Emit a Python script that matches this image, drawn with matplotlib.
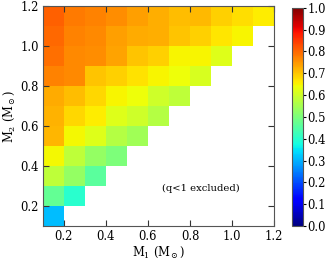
import numpy as np
import matplotlib
matplotlib.use("Agg")
import matplotlib.pyplot as plt

plt.rcParams['font.family'] = 'DejaVu Serif'
plt.rcParams['mathtext.fontset'] = 'dejavuserif'

# mass bin edges (Msun)
m1_edges = np.round(np.arange(0.1, 1.21, 0.1), 2)
m2_edges = np.round(np.arange(0.1, 1.21, 0.1), 2)

# values per cell, rows = M2 bins from 0.1-0.2 up to 1.1-1.2, cols = M1 bins
# None -> q<1 excluded
vals = [
    [0.31, None, None, None, None, None, None, None, None, None, None],
    [0.47, 0.40, None, None, None, None, None, None, None, None, None],
    [0.58, 0.53, 0.46, None, None, None, None, None, None, None, None],
    [0.645, 0.58, 0.53, 0.50, None, None, None, None, None, None, None],
    [0.715, 0.645, 0.62, 0.57, 0.545, None, None, None, None, None, None],
    [0.72, 0.68, 0.66, 0.62, 0.60, 0.57, None, None, None, None, None],
    [0.73, 0.71, 0.68, 0.65, 0.64, 0.60, 0.58, None, None, None, None],
    [0.77, 0.765, 0.70, 0.69, 0.67, 0.65, 0.64, 0.61, None, None, None],
    [0.79, 0.765, 0.76, 0.735, 0.70, 0.69, 0.65, 0.65, 0.62, None, None],
    [0.80, 0.772, 0.765, 0.74, 0.73, 0.725, 0.70, 0.69, 0.667, 0.65, None],
    [0.805, 0.78, 0.77, 0.76, 0.74, 0.725, 0.709, 0.714, 0.688, 0.672, 0.66],
]

grid = np.array([[np.nan if v is None else v for v in row] for row in vals])
grid = np.ma.masked_invalid(grid)

fig = plt.figure(figsize=(3.27, 2.59), dpi=100)
ax = fig.add_axes([0.131, 0.127, 0.707, 0.850])
cax = fig.add_axes([0.893, 0.127, 0.034, 0.843])

mesh = ax.pcolormesh(m1_edges, m2_edges, grid, cmap='jet', vmin=0, vmax=1)

ax.set_xlim(0.1, 1.2)
ax.set_ylim(0.1, 1.2)
ax.set_xticks([0.2, 0.4, 0.6, 0.8, 1.0, 1.2])
ax.set_yticks([0.2, 0.4, 0.6, 0.8, 1.0, 1.2])
ax.tick_params(direction='in', top=True, right=True, length=4, labelsize=8.3,
               color='#333333', pad=3)
for s in ax.spines.values():
    s.set_color('#555555')
ax.set_xlabel(r'M$_1$ (M$_\odot$)', fontsize=8.3, labelpad=1)
ax.set_ylabel(r'M$_2$ (M$_\odot$)', fontsize=8.3, labelpad=2)

ax.text(0.85, 0.29, '(q<1 excluded)', fontsize=7.2, ha='center', va='center')

cb = fig.colorbar(mesh, cax=cax, ticks=np.linspace(0, 1, 11))
cb.ax.tick_params(labelsize=8.3, length=2, pad=1)
cb.outline.set_edgecolor('#555555')

fig.savefig('out.png', dpi=100)
